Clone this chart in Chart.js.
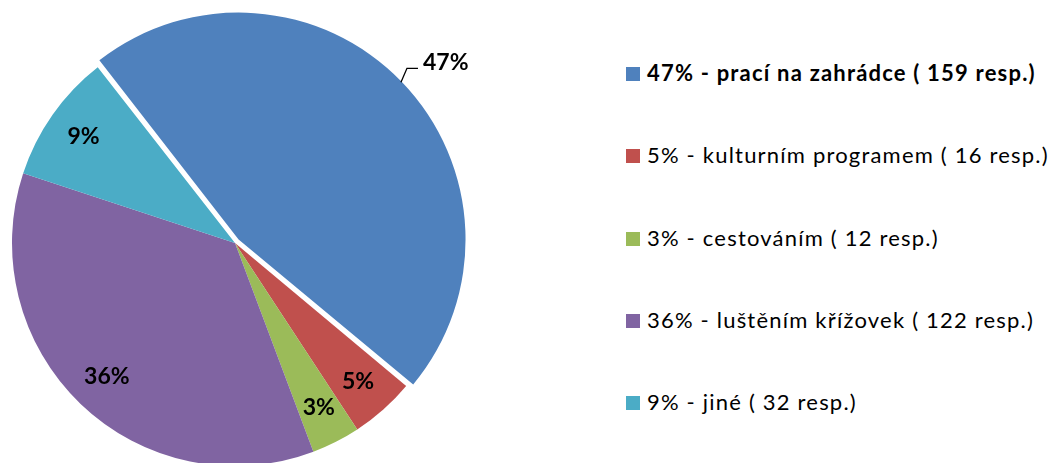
<!DOCTYPE html>
<html>
<head>
<meta charset="utf-8">
<script src="https://cdn.jsdelivr.net/npm/chart.js@4/dist/chart.umd.min.js"></script>
<style>
    body { margin: 0; width: 1057px; height: 463px; overflow: hidden; background: #fff; font-family: Lato, "Noto Sans", sans-serif; }
    #chartBox { position: absolute; left: 0; top: 0; width: 470px; height: 486px; }
    #legend { position: absolute; left: 626px; top: 0; }
    .item { position: absolute; left: 0; white-space: nowrap; height: 26px; line-height: 26px; font-size: 22px; letter-spacing: 1.2px; color: #000; }
    .item.bold { font-weight: bold; }
    .box { display: inline-block; width: 14px; height: 14px; margin-right: 7px; vertical-align: 0px; }
</style>
</head>
<body>
<div id="chartBox"><canvas id="myChart"></canvas></div>
<div id="legend"></div>
<script>
// data
var categories = ["prací na zahrádce", "kulturním programem", "cestováním", "luštěním křížovek", "jiné"];
var respondents = [159, 16, 12, 122, 32];
var percentLabels = ["47%", "5%", "3%", "36%", "9%"];
var colors = ["#4F81BD", "#C0504D", "#9BBB59", "#8064A2", "#4BACC6"];

// legend (html, first row bold like the original)
var legend = document.getElementById("legend");
categories.forEach(function (name, i) {
    var row = document.createElement("div");
    row.className = "item" + (i === 0 ? " bold" : "");
    row.style.top = (73 + i * 82.25 - 13) + "px";
    var box = document.createElement("span");
    box.className = "box";
    box.style.background = colors[i];
    row.appendChild(box);
    row.appendChild(document.createTextNode(percentLabels[i] + " - " + name + " ( " + respondents[i] + " resp.)"));
    legend.appendChild(row);
});

// percent labels on the slices
var sliceLabels = {
    id: "sliceLabels",
    afterDatasetsDraw: function (chart) {
        var ctx = chart.ctx;
        var arcs = chart.getDatasetMeta(0).data;
        ctx.save();
        ctx.fillStyle = "#000";
        ctx.font = "bold 23px Lato, 'Noto Sans', sans-serif";
        arcs.forEach(function (arc, i) {
            var p = arc.getProps(["x", "y", "startAngle", "endAngle", "outerRadius"], true);
            var mid = (p.startAngle + p.endAngle) / 2;
            var cos = Math.cos(mid), sin = Math.sin(mid);
            if (i === 0) {
                // outside label with a leader line
                var x0 = p.x + cos * (p.outerRadius + 8);
                var y0 = p.y + sin * (p.outerRadius + 8);
                ctx.strokeStyle = "#000";
                ctx.lineWidth = 1.3;
                ctx.beginPath();
                ctx.moveTo(x0, y0);
                ctx.lineTo(x0 + 6, y0 - 14);
                ctx.lineTo(x0 + 17, y0 - 14);
                ctx.stroke();
                ctx.textAlign = "left";
                ctx.textBaseline = "alphabetic";
                ctx.fillText(percentLabels[i], x0 + 22, y0 - 12);
            } else {
                ctx.textAlign = "center";
                ctx.textBaseline = "middle";
                ctx.fillText(percentLabels[i], p.x + cos * p.outerRadius * 0.83, p.y + sin * p.outerRadius * 0.83);
            }
        });
        ctx.restore();
    }
};

var ctx = document.getElementById("myChart").getContext("2d");
var myChart = new Chart(ctx, {
    type: "pie",
    data: {
        labels: categories,
        datasets: [
            {
                data: respondents,
                backgroundColor: colors,
                borderWidth: 0,
                offset: [20, 0, 0, 0, 0],
            },
        ],
    },
    options: {
        responsive: true,
        maintainAspectRatio: false,
        animation: false,
        rotation: -38,
        radius: 223,
        layout: { padding: 0 },
        plugins: {
            legend: { display: false },
            tooltip: { enabled: false },
        },
    },
    plugins: [sliceLabels],
});
</script>
</body>
</html>
